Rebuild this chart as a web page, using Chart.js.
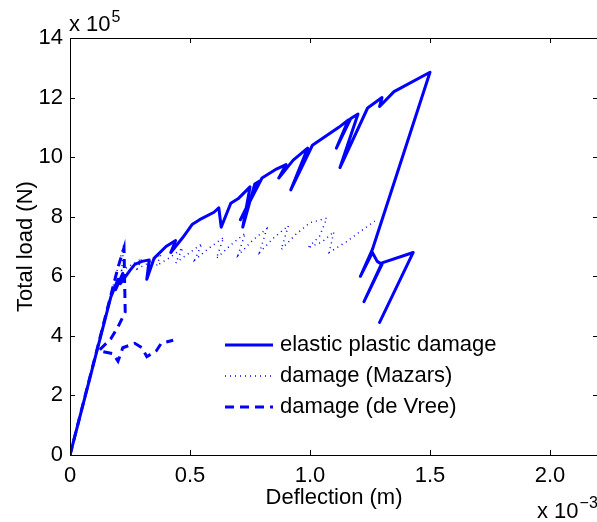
<!DOCTYPE html>
<html>
<head>
<meta charset="utf-8">
<script src="https://cdn.jsdelivr.net/npm/chart.js@4.4.1/dist/chart.umd.min.js"></script>
<style>
  html, body { margin: 0; padding: 0; background: #fff; overflow: hidden; }
  #wrap { width: 600px; height: 522px; }
</style>
</head>
<body>
<div id="wrap"><canvas id="loadChart" width="600" height="522"></canvas></div>
<script>
// deflection in 1e-3 m, total load in 1e5 N (as on the axes)
const xTicks = [0, 0.5, 1, 1.5, 2];
const yTicks = [0, 2, 4, 6, 8, 10, 12, 14];

// elastic plastic damage
const epdDefl = [0, 0.17, 0.2, 0.19, 0.22, 0.21, 0.25, 0.27, 0.3, 0.33, 0.32, 0.35, 0.4, 0.44, 0.42, 0.47, 0.51, 0.54,
    0.6, 0.62, 0.63, 0.67, 0.7, 0.75, 0.72, 0.77, 0.79, 0.71, 0.8, 0.86, 0.9, 0.87, 0.93, 0.99, 0.92, 1.01,
    1.12, 1.16, 1.11, 1.17, 1.2, 1.125, 1.24, 1.3, 1.29, 1.35, 1.5, 1.26, 1.21, 1.26, 1.28, 1.3, 1.225, 1.3, 1.43, 1.29];
const epdLoad = [0, 5.3, 5.9, 5.55, 6.1, 5.75, 6.2, 6.4, 6.5, 6.55, 5.9, 6.6, 7.0, 7.2, 6.8, 7.3, 7.75, 7.9,
    8.15, 8.3, 7.65, 8.45, 8.6, 9.0, 7.65, 9.1, 9.2, 7.9, 9.3, 9.6, 9.75, 9.3, 9.9, 10.3, 8.9, 10.4,
    11.0, 11.25, 10.3, 11.3, 11.45, 9.65, 11.65, 12.0, 11.7, 12.2, 12.85, 6.9, 6.0, 6.8, 6.5, 6.4, 5.15, 6.45, 6.8, 4.45];

// damage (Mazars)
const mazDefl = [0, 0.225, 0.215, 0.26, 0.3, 0.28, 0.34, 0.38, 0.36, 0.42, 0.47, 0.44, 0.5, 0.55, 0.52, 0.58, 0.64,
    0.61, 0.67, 0.73, 0.7, 0.76, 0.82, 0.79, 0.85, 0.91, 0.88, 0.94, 1.0, 1.07, 1.04, 0.99, 1.05, 1.1, 1.08,
    1.15, 1.2, 1.27];
const mazLoad = [0, 7.1, 6.2, 6.4, 6.6, 6.25, 6.5, 6.75, 6.35, 6.65, 6.95, 6.45, 6.8, 7.1, 6.55, 6.95, 7.3,
    6.6, 7.05, 7.45, 6.7, 7.2, 7.6, 6.8, 7.3, 7.7, 6.9, 7.4, 7.8, 7.95, 7.35, 6.95, 7.15, 7.5, 6.8,
    7.15, 7.45, 7.85];

// damage (de Vree)
const vreeDefl = [0, 0.2, 0.225, 0.23, 0.2, 0.17, 0.12, 0.18, 0.2, 0.22, 0.27, 0.3, 0.32, 0.36, 0.38, 0.43];
const vreeLoad = [0, 6.3, 6.95, 4.8, 4.3, 3.9, 3.5, 3.4, 3.15, 3.6, 3.75, 3.6, 3.3, 3.5, 3.75, 3.85];

const toPoints = (xs, ys) => xs.map((v, i) => ({ x: v, y: ys[i] }));

Chart.defaults.font.family = '"Liberation Sans", Arial, Helvetica, sans-serif';
Chart.defaults.font.size = 22;
Chart.defaults.color = '#000';

// box and inward ticks, matlab style
const axesBox = {
    id: 'axesBox',
    afterDatasetsDraw(chart) {
        const { ctx, chartArea: { left, right, top, bottom }, scales: { x, y } } = chart;
        ctx.save();
        ctx.strokeStyle = '#000';
        ctx.lineWidth = 1;
        ctx.strokeRect(left + 0.5, top + 0.5, right - left - 1, bottom - top);
        ctx.beginPath();
        xTicks.forEach(v => {
            const px = Math.round(x.getPixelForValue(v)) + 0.5;
            ctx.moveTo(px, bottom); ctx.lineTo(px, bottom - 5);
            ctx.moveTo(px, top); ctx.lineTo(px, top + 5);
        });
        yTicks.forEach(v => {
            const py = Math.round(y.getPixelForValue(v)) + 0.5;
            ctx.moveTo(left, py); ctx.lineTo(left + 5, py);
            ctx.moveTo(right, py); ctx.lineTo(right - 5, py);
        });
        ctx.stroke();
        ctx.restore();
    },
    afterDraw(chart) {
        const { ctx } = chart;
        const big = '22px "Liberation Sans", Arial, sans-serif';
        const small = '16px "Liberation Sans", Arial, sans-serif';
        ctx.save();
        ctx.fillStyle = '#000';
        ctx.textBaseline = 'alphabetic';
        ctx.textAlign = 'left';
        // y exponent
        ctx.font = big;
        ctx.fillText('x 10', 69, 31);
        let w = ctx.measureText('x 10').width;
        ctx.font = small;
        ctx.fillText('5', 69 + w + 1, 22);
        // x exponent
        ctx.font = big;
        ctx.fillText('x 10', 537, 518);
        w = ctx.measureText('x 10').width;
        ctx.font = small;
        ctx.fillText('\u22123', 537 + w + 1, 508);
        ctx.restore();
    }
};

// legend inside the axes without a frame
const lineLegend = {
    id: 'lineLegend',
    afterDraw(chart) {
        const { ctx } = chart;
        const rows = [345, 376, 407];
        ctx.save();
        chart.data.datasets.forEach((ds, i) => {
            const yy = rows[i];
            ctx.strokeStyle = ds.borderColor;
            ctx.lineWidth = ds.borderWidth;
            ctx.setLineDash(ds.borderDash || []);
            ctx.beginPath();
            ctx.moveTo(225, yy);
            ctx.lineTo(273, yy);
            ctx.stroke();
            ctx.setLineDash([]);
            ctx.fillStyle = '#000';
            ctx.font = '22px "Liberation Sans", Arial, sans-serif';
            ctx.textBaseline = 'middle';
            ctx.textAlign = 'left';
            ctx.fillText(ds.label, 280, yy);
        });
        ctx.restore();
    }
};

const chart = new Chart(document.getElementById('loadChart').getContext('2d'), {
    type: 'scatter',
    data: {
        datasets: [{
            label: 'elastic plastic damage',
            data: toPoints(epdDefl, epdLoad),
            showLine: true,
            borderColor: '#0000ff',
            borderWidth: 3,
            borderJoinStyle: 'round',
            borderCapStyle: 'round',
            pointRadius: 0,
            tension: 0
        }, {
            label: 'damage (Mazars)',
            data: toPoints(mazDefl, mazLoad),
            showLine: true,
            borderColor: '#0000ff',
            borderWidth: 1.5,
            borderDash: [1, 4],
            pointRadius: 0,
            tension: 0
        }, {
            label: 'damage (de Vree)',
            data: toPoints(vreeDefl, vreeLoad),
            showLine: true,
            borderColor: '#0000ff',
            borderWidth: 3,
            borderDash: [9, 6],
            pointRadius: 0,
            tension: 0
        }]
    },
    options: {
        responsive: false,
        animation: false,
        layout: { padding: { left: 0, top: 38, right: 2, bottom: 0 } },
        plugins: {
            legend: { display: false },
            tooltip: { enabled: false }
        },
        scales: {
            x: {
                type: 'linear',
                min: 0,
                max: 2.2,
                grid: { display: false, drawTicks: false },
                border: { display: false },
                afterBuildTicks: s => { s.ticks = xTicks.map(v => ({ value: v })); },
                afterFit: s => { s.height = 67; },
                ticks: { padding: 8, maxRotation: 0 },
                title: { display: true, text: 'Deflection (m)', padding: { top: 0, bottom: 11 } }
            },
            y: {
                min: 0,
                max: 14,
                grid: { display: false, drawTicks: false },
                border: { display: false },
                afterBuildTicks: s => { s.ticks = yTicks.map(v => ({ value: v })); },
                afterFit: s => { s.width = 70; },
                ticks: { padding: 7 },
                title: { display: true, text: 'Total load (N)', padding: { top: 13, bottom: 0 } }
            }
        }
    },
    plugins: [axesBox, lineLegend]
});
</script>
</body>
</html>
